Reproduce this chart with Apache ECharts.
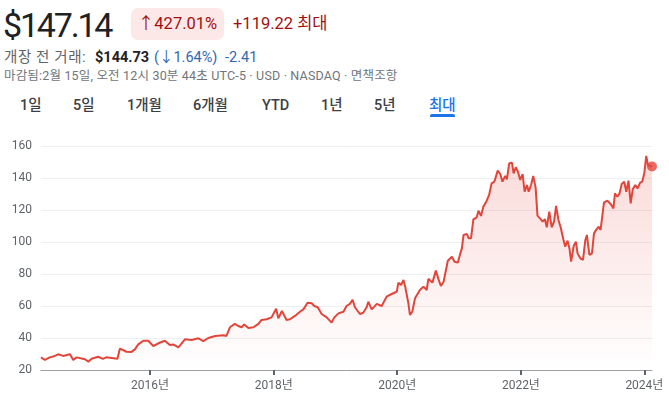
<!DOCTYPE html>
<html><head><meta charset="utf-8">
<script src="https://cdn.jsdelivr.net/npm/echarts@6/dist/echarts.min.js"></script>
<style>
html,body{margin:0;padding:0;background:#fff;width:669px;height:399px;overflow:hidden;font-family:Roboto,"Noto Sans CJK KR",sans-serif;}
.a{position:absolute;white-space:nowrap;}
#price{left:3px;top:5px;font-size:34px;line-height:40px;color:#202124;letter-spacing:-2.2px;}
#badge{left:131px;top:8px;width:93px;height:32px;border-radius:7px;background:#fce8e6;color:#a50e0e;font-size:16.5px;line-height:32px;text-align:center;}
#chg{left:233px;top:8px;font-size:16.5px;line-height:32px;color:#a50e0e;}
.l2{top:48px;font-size:14.5px;line-height:20px;color:#5f6368;}
.l2b{color:#202124;font-weight:700;}
.l2c{color:#3367b0;}
#l3{left:4px;top:67px;font-size:12.5px;line-height:18px;color:#70757a;letter-spacing:0.18px;}
.tab{top:96px;font-size:14.5px;line-height:20px;color:#3c4043;font-weight:500;}
#under{left:430px;top:114px;width:25px;height:3px;background:#1a73e8;border-radius:2px 2px 0 0;}
#chart{position:absolute;left:0;top:125px;width:669px;height:274px;}
</style></head>
<body>
<div class="a" id="price">$147.14</div>
<div class="a" id="badge">↑427.01%</div>
<div class="a" id="chg">+119.22 최대</div>
<div class="a l2" style="left:4px;letter-spacing:0.6px">개장 전 거래:</div>
<div class="a l2 l2b" style="left:95px">$144.73</div>
<div class="a l2 l2c" style="left:154px">(↓1.64%)</div>
<div class="a l2 l2c" style="left:225px">-2.41</div>
<div class="a" id="l3">마감됨:2월 15일, 오전 12시 30분 44초 UTC-5 · USD · NASDAQ · 면책조항</div>
<div class="a tab" style="left:20px">1일</div>
<div class="a tab" style="left:73px">5일</div>
<div class="a tab" style="left:127px">1개월</div>
<div class="a tab" style="left:193px">6개월</div>
<div class="a tab" style="left:262px">YTD</div>
<div class="a tab" style="left:321px">1년</div>
<div class="a tab" style="left:374px">5년</div>
<div class="a tab" style="left:429px;color:#1a73e8">최대</div>
<div class="a" id="under"></div>
<div id="chart"></div>
<script>
const dates = ['2014-03-27','2014-04-19','2014-05-18','2014-06-17','2014-07-06','2014-08-05','2014-09-14','2014-10-04','2014-10-23','2014-12-12',
'2015-01-01','2015-01-20','2015-02-28','2015-03-28','2015-04-16','2015-06-22','2015-07-06','2015-07-25','2015-08-14','2015-09-13','2015-10-03','2015-10-23','2015-11-22','2015-12-21',
'2016-01-20','2016-02-19','2016-03-28','2016-04-27','2016-05-17','2016-06-16','2016-07-25','2016-09-03','2016-10-12','2016-11-11','2016-12-10',
'2017-01-20','2017-03-08','2017-03-27','2017-04-17','2017-05-16','2017-06-05','2017-06-25','2017-07-10','2017-08-04','2017-09-03','2017-10-02','2017-10-21','2017-11-20','2017-12-19',
'2018-01-15','2018-01-28','2018-02-18','2018-02-28','2018-03-17','2018-04-07','2018-05-06','2018-06-05','2018-06-25','2018-07-20','2018-08-13','2018-08-29','2018-09-18','2018-10-11','2018-11-10','2018-11-20','2018-12-09','2018-12-25',
'2019-01-18','2019-02-17','2019-03-07','2019-03-27','2019-04-12','2019-04-26','2019-05-25','2019-06-14','2019-07-04','2019-07-14','2019-08-03','2019-09-02','2019-10-01','2019-10-30','2019-11-29','2019-12-29',
'2020-01-08','2020-01-24','2020-02-07','2020-02-17','2020-03-07','2020-03-16','2020-03-30','2020-04-15','2020-05-14','2020-06-04','2020-06-23','2020-07-03','2020-07-27','2020-08-16','2020-09-02','2020-09-15','2020-10-01','2020-10-26','2020-11-19','2020-12-05','2020-12-24',
'2021-01-08','2021-01-17','2021-01-27','2021-02-16','2021-02-26','2021-03-12','2021-03-26','2021-04-15','2021-04-25','2021-05-10','2021-05-24','2021-06-13','2021-06-27','2021-07-12','2021-07-28','2021-08-17','2021-09-01','2021-09-14','2021-09-30','2021-10-10','2021-10-24','2021-11-09','2021-11-19','2021-12-02','2021-12-14','2021-12-28',
'2022-01-11','2022-01-23','2022-02-06','2022-02-16','2022-03-02','2022-03-15','2022-03-29','2022-04-09','2022-04-24','2022-05-10','2022-05-23','2022-06-03','2022-06-18','2022-07-02','2022-07-16','2022-07-28','2022-08-11','2022-08-24','2022-09-10','2022-09-20','2022-10-04','2022-10-15','2022-10-25','2022-11-09','2022-11-22','2022-12-02','2022-12-18',
'2023-01-03','2023-01-17','2023-01-26','2023-02-10','2023-02-25','2023-03-09','2023-03-24','2023-04-06','2023-04-17','2023-05-07','2023-05-27','2023-06-16','2023-07-02','2023-07-11','2023-07-25','2023-08-07','2023-08-20','2023-09-04','2023-09-16','2023-09-29','2023-10-12','2023-10-24','2023-11-08','2023-11-22','2023-12-07','2023-12-19',
'2024-01-01','2024-01-12','2024-01-22','2024-02-15'];
const values = [27.9,26.3,27.9,28.8,29.8,28.8,29.8,26.3,27.9,26.7,
25.2,27.0,28.3,27.0,27.9,27.0,33.3,32.5,31.4,31.3,32.9,36.0,38.3,38.3,
35.0,36.7,38.3,35.6,36.0,34.2,39.2,38.8,39.8,38.1,40.0,
41.3,41.7,41.3,46.7,48.8,47.5,46.7,48.5,46.3,46.7,48.8,51.3,51.7,52.9,
58.3,52.3,56.9,57.9,51.3,51.7,53.8,56.4,57.9,62.0,61.7,60.0,59.2,55.0,52.9,53.8,49.6,52.9,
55.4,56.4,60.0,61.3,63.8,59.2,55.0,55.8,59.2,62.7,57.9,61.3,60.0,65.8,67.5,68.9,
74.6,73.1,76.3,72.1,61.7,54.4,56.4,64.8,70.0,72.1,70.0,77.0,74.6,82.1,76.3,72.5,75.2,88.3,90.8,87.7,87.1,
92.9,96.0,104.4,105.0,102.3,102.3,114.2,115.4,119.6,116.3,122.1,125.8,129.4,136.7,137.7,144.6,142.5,137.7,141.3,139.2,149.2,149.6,142.9,146.7,144.0,138.8,
142.5,131.4,135.6,131.4,135.6,141.3,134.0,116.5,114.8,112.7,114.2,109.2,119.0,109.2,112.7,122.5,113.8,109.2,101.3,97.1,100.8,96.0,87.7,97.5,100.2,92.9,89.8,
88.8,101.3,104.4,91.9,92.9,105.4,107.9,109.6,107.5,124.6,125.8,123.8,121.0,130.4,128.3,130.4,136.3,137.7,131.4,138.3,124.2,132.9,135.6,133.5,137.1,137.7,
143.3,153.8,148.1,147.14];
const xTickYears = ['2016','2018','2020','2022','2024'];
const yTicks = [20,40,60,80,100,120,140,160];

const pts = dates.map((d,i)=>[Date.parse(d), values[i]]);
const lastPt = pts[pts.length-1];
const xTicks = xTickYears.map(y=>Date.parse(y+'-01-01'));
const red = '#e2453a';
const chart = echarts.init(document.getElementById('chart'), null, {renderer:'canvas'});
chart.setOption({
  animation:false,
  grid:{left:41,right:17,top:21,bottom:29,containLabel:false},
  xAxis:{type:'value',min:pts[0][0],max:lastPt[0],scale:true,
    axisLine:{show:true,lineStyle:{color:'#9aa0a6',width:1}},
    axisTick:{show:true,customValues:xTicks,length:5,lineStyle:{color:'#5f6368',width:2}},
    axisLabel:{customValues:xTicks,margin:10,color:'#5f6368',fontSize:12,fontFamily:'Roboto, "Noto Sans CJK KR"',
      formatter:v=>new Date(v).getUTCFullYear()+'년'},
    splitLine:{show:false}},
  yAxis:{type:'value',min:yTicks[0],max:yTicks[yTicks.length-1],interval:20,
    axisLine:{show:false},axisTick:{show:false},
    axisLabel:{margin:9,color:'#5f6368',fontSize:12,fontFamily:'Roboto'},
    splitLine:{lineStyle:{color:'#eceff1',width:1}}},
  series:[{type:'line',data:pts,showSymbol:false,symbol:'none',
    lineStyle:{color:red,width:2},
    areaStyle:{color:new echarts.graphic.LinearGradient(0,0,0,1,[{offset:0,color:'rgba(230,70,60,0.28)'},{offset:1,color:'rgba(230,70,60,0)'}])}},
   {type:'scatter',data:[lastPt],symbol:'circle',symbolSize:10,itemStyle:{color:red},silent:true}]
});
</script>
</body></html>
